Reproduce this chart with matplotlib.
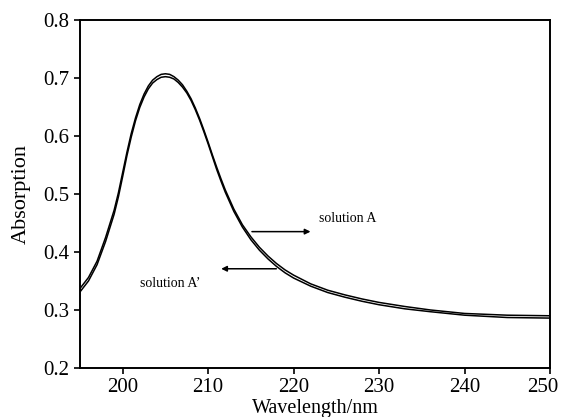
import matplotlib
matplotlib.use("Agg")
import matplotlib.pyplot as plt
import matplotlib.transforms as mtransforms

wavelength = [195, 196, 197, 198, 199, 199.5, 200, 200.5, 201, 201.5, 202, 202.5, 203, 203.5, 204, 204.5, 205, 205.5, 206, 206.5, 207, 207.5, 208, 208.5, 209, 209.5, 210, 210.5, 211, 211.5, 212, 213, 214, 215, 216, 217, 218, 219, 220, 222, 224, 226, 228, 230, 233, 236, 240, 245, 250]
solution_A = [0.337, 0.356, 0.384, 0.425, 0.472, 0.502, 0.537, 0.572, 0.604, 0.631, 0.654, 0.672, 0.686, 0.696, 0.702, 0.706, 0.707, 0.706, 0.702, 0.696, 0.688, 0.677, 0.664, 0.648, 0.630, 0.610, 0.589, 0.567, 0.546, 0.526, 0.507, 0.474, 0.447, 0.426, 0.408, 0.393, 0.380, 0.369, 0.360, 0.345, 0.334, 0.326, 0.319, 0.313, 0.306, 0.300, 0.294, 0.291, 0.290]
solution_A2 = [0.331, 0.350, 0.378, 0.418, 0.465, 0.495, 0.530, 0.566, 0.598, 0.626, 0.649, 0.667, 0.681, 0.691, 0.697, 0.701, 0.702, 0.701, 0.698, 0.692, 0.684, 0.674, 0.661, 0.645, 0.627, 0.607, 0.586, 0.564, 0.542, 0.522, 0.503, 0.470, 0.443, 0.421, 0.403, 0.388, 0.375, 0.364, 0.355, 0.341, 0.330, 0.322, 0.315, 0.309, 0.302, 0.297, 0.291, 0.287, 0.286]
x_ticks = [200, 210, 220, 230, 240, 250]
y_ticks = [0.2, 0.3, 0.4, 0.5, 0.6, 0.7, 0.8]

plt.rcParams['font.family'] = ['Liberation Serif', 'DejaVu Serif']

fig = plt.figure(figsize=(5.63, 4.17), dpi=100)
ax = fig.add_axes([0.142, 0.1175, 0.835, 0.835])

ax.plot(wavelength, solution_A, color='black', lw=1.1)
ax.plot(wavelength, solution_A2, color='black', lw=1.1)

ax.set_xlim(195, 250)
ax.set_ylim(0.2, 0.8)
ax.set_xticks(x_ticks)
ax.set_yticks(y_ticks)
ax.set_xticklabels([str(t) for t in x_ticks])
ax.set_yticklabels([f"{t:.1f}" for t in y_ticks])
ax.tick_params(direction='out', length=4, width=1.2, labelsize=15, top=False, right=False)
for s in ax.spines.values():
    s.set_linewidth(1.4)

# keep the last x tick label inside the canvas
last = ax.get_xticklabels()[-1]
last.set_transform(last.get_transform() + mtransforms.ScaledTranslation(-0.07, 0, fig.dpi_scale_trans))

ax.set_xlabel('Wavelength/nm', fontsize=14.5, labelpad=1)
ax.set_ylabel('Absorption', fontsize=16, labelpad=9)

ax.annotate('', xy=(222.3, 0.435), xytext=(214.8, 0.435),
            arrowprops=dict(arrowstyle='-|>', color='black', lw=1.1, mutation_scale=8))
ax.text(223.0, 0.458, 'solution A', fontsize=10, ha='left', va='center')
ax.annotate('', xy=(211.2, 0.371), xytext=(218.3, 0.371),
            arrowprops=dict(arrowstyle='-|>', color='black', lw=1.1, mutation_scale=8))
ax.text(202.0, 0.345, 'solution A\u2019', fontsize=10, ha='left', va='center')

fig.savefig('out.png', dpi=100)
